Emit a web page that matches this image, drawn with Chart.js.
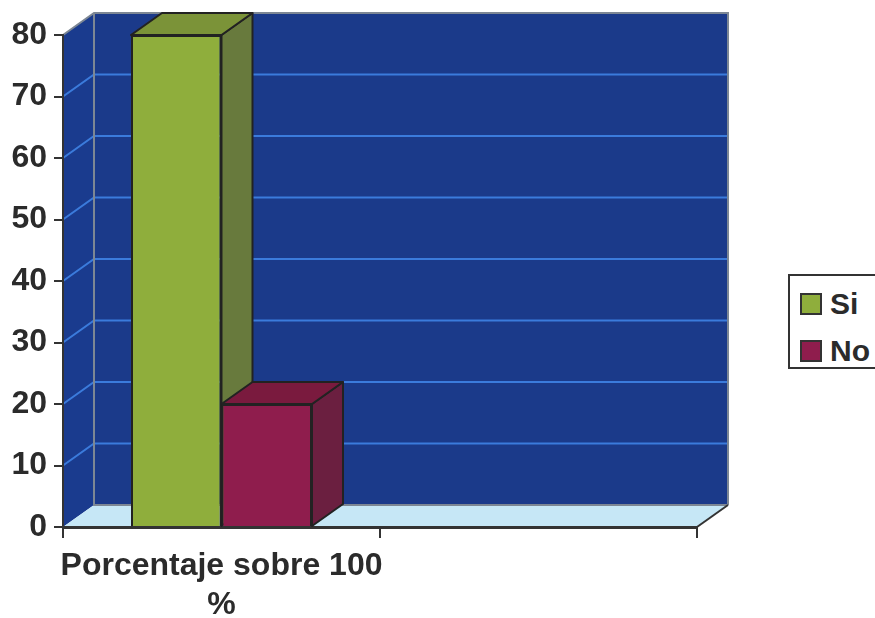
<!DOCTYPE html>
<html lang="es">
<head>
<meta charset="utf-8">
<title>Porcentaje sobre 100 %</title>
<script src="https://cdn.jsdelivr.net/npm/chart.js@4/dist/chart.umd.min.js"></script>
<style>
    html, body { margin: 0; padding: 0; background: #fff; overflow: hidden; }
    #wrap { position: relative; width: 875px; height: 618px; overflow: hidden; }
    #legend {
        position: absolute; left: 788px; top: 274px; width: 92px; height: 91px;
        border: 2px solid #333; background: #fff; box-sizing: content-box;
        font: bold 30px "Liberation Sans", Arial, sans-serif; color: #2b2b2b;
    }
    #legend div { position: absolute; left: 40px; line-height: 34px; white-space: nowrap; }
    #legend i {
        position: absolute; left: -30px; top: 6px; width: 18px; height: 18px;
        border: 2px solid #333; display: block;
    }
</style>
</head>
<body>
<div id="wrap">
    <canvas id="chart" width="875" height="618"></canvas>
    <div id="legend"></div>
</div>
<script>
(function() {
    'use strict';

    var categories = [['Porcentaje sobre 100', '%'], ''];
    var seriesNames = ['Si', 'No'];
    var siValues = [80, null];
    var noValues = [20, null];
    var yTicks = [0, 10, 20, 30, 40, 50, 60, 70, 80];

    var frontColors = ['#8fae3c', '#8f1d4d'];
    var sideColors = ['#687a3d', '#6b1f40'];
    var topColors = ['#7b9338', '#7a1a3e'];
    var edgeColor = '#222';
    var axisColor = '#333';
    var textColor = '#2b2b2b';
    var labelFont = { family: '"Liberation Sans", Arial, sans-serif', size: 32, weight: 'bold', lineHeight: 1.22 };

    // Depth of the fake 3D box, in pixels.
    var depthX = 31;
    var depthY = 22;

    function poly(ctx, pts, fill, stroke, width) {
        ctx.beginPath();
        ctx.moveTo(pts[0][0], pts[0][1]);
        for (var i = 1; i < pts.length; i++) {
            ctx.lineTo(pts[i][0], pts[i][1]);
        }
        ctx.closePath();
        if (fill) {
            ctx.fillStyle = fill;
            ctx.fill();
        }
        if (stroke) {
            ctx.strokeStyle = stroke;
            ctx.lineWidth = width;
            ctx.stroke();
        }
    }

    // Back wall, side wall, floor and the gridlines that wrap around them.
    var wallsPlugin = {
        id: 'walls',
        beforeDraw: function(chart) {
            var ctx = chart.ctx;
            var a = chart.chartArea;
            var y = chart.scales.y;
            ctx.save();
            poly(ctx, [[a.left + depthX, a.top - depthY], [a.right + depthX, a.top - depthY],
                [a.right + depthX, a.bottom - depthY], [a.left + depthX, a.bottom - depthY]], '#1b3a8a');
            poly(ctx, [[a.left, a.top], [a.left + depthX, a.top - depthY],
                [a.left + depthX, a.bottom - depthY], [a.left, a.bottom]], '#1a3b8e');
            poly(ctx, [[a.left, a.bottom], [a.left + depthX, a.bottom - depthY],
                [a.right + depthX, a.bottom - depthY], [a.right, a.bottom]], '#c6e7f6');

            ctx.strokeStyle = '#3b7bdc';
            ctx.lineWidth = 2;
            y.ticks.forEach(function(t) {
                if (t.value === 0 || t.value === 80) {
                    return;
                }
                var py = y.getPixelForValue(t.value);
                ctx.beginPath();
                ctx.moveTo(a.left, py);
                ctx.lineTo(a.left + depthX, py - depthY);
                ctx.lineTo(a.right + depthX, py - depthY);
                ctx.stroke();
            });

            // Grey outline of the walls.
            ctx.strokeStyle = '#7d8794';
            ctx.lineWidth = 2;
            ctx.beginPath();
            ctx.moveTo(a.left, a.top);
            ctx.lineTo(a.left + depthX, a.top - depthY);
            ctx.lineTo(a.right + depthX, a.top - depthY);
            ctx.lineTo(a.right + depthX, a.bottom - depthY);
            ctx.moveTo(a.left + depthX, a.top - depthY);
            ctx.lineTo(a.left + depthX, a.bottom - depthY);
            ctx.lineTo(a.right + depthX, a.bottom - depthY);
            ctx.stroke();

            ctx.strokeStyle = axisColor;
            ctx.beginPath();
            ctx.moveTo(a.right, a.bottom);
            ctx.lineTo(a.right + depthX, a.bottom - depthY);
            ctx.stroke();
            ctx.restore();
        },
        // Top and side faces go under all the front faces, first series first.
        beforeDatasetsDraw: function(chart) {
            var ctx = chart.ctx;
            ctx.save();
            ctx.lineJoin = 'round';
            chart.data.datasets.forEach(function(ds, i) {
                chart.getDatasetMeta(i).data.forEach(function(bar, j) {
                    if (ds.data[j] === null) {
                        return;
                    }
                    var l = bar.x - bar.width / 2;
                    var r = bar.x + bar.width / 2;
                    poly(ctx, [[r, bar.y], [r + depthX, bar.y - depthY],
                        [r + depthX, bar.base - depthY], [r, bar.base]], sideColors[i], edgeColor, 2);
                    poly(ctx, [[l, bar.y], [l + depthX, bar.y - depthY],
                        [r + depthX, bar.y - depthY], [r, bar.y]], topColors[i], edgeColor, 2);
                });
            });
            ctx.restore();
        }
    };

    function buildLegend() {
        var box = document.getElementById('legend');
        seriesNames.forEach(function(name, i) {
            var row = document.createElement('div');
            row.style.top = (11 + i * 47) + 'px';
            var swatch = document.createElement('i');
            swatch.style.background = frontColors[i];
            row.appendChild(swatch);
            row.appendChild(document.createTextNode(name));
            box.appendChild(row);
        });
    }

    document.addEventListener('DOMContentLoaded', function() {
        buildLegend();

        new Chart(document.getElementById('chart').getContext('2d'), {
            type: 'bar',
            data: {
                labels: categories,
                datasets: [
                    { label: seriesNames[0], data: siValues, backgroundColor: frontColors[0] },
                    { label: seriesNames[1], data: noValues, backgroundColor: frontColors[1] }
                ]
            },
            options: {
                responsive: false,
                animation: false,
                layout: { padding: { left: 0, right: 178, top: 35, bottom: 0 } },
                datasets: {
                    bar: {
                        barPercentage: 1,
                        categoryPercentage: 0.571,
                        borderColor: edgeColor,
                        borderWidth: 2
                    }
                },
                plugins: {
                    legend: { display: false },
                    tooltip: { enabled: false }
                },
                scales: {
                    x: {
                        grid: { drawOnChartArea: false, color: axisColor, lineWidth: 2, tickLength: 11 },
                        border: { color: axisColor, width: 3 },
                        ticks: {
                            color: textColor,
                            font: labelFont,
                            padding: 9,
                            maxRotation: 0,
                            autoSkip: false
                        },
                        afterFit: function(scale) { scale.height = 91; }
                    },
                    y: {
                        min: yTicks[0],
                        max: yTicks[yTicks.length - 1],
                        grid: { drawOnChartArea: false, color: axisColor, lineWidth: 2, tickLength: 9 },
                        border: { color: axisColor, width: 2 },
                        afterBuildTicks: function(scale) {
                            scale.ticks = yTicks.map(function(v) { return { value: v }; });
                        },
                        ticks: {
                            color: textColor,
                            font: labelFont,
                            padding: 7
                        },
                        afterFit: function(scale) { scale.width = 63; }
                    }
                }
            },
            plugins: [wallsPlugin]
        });
    });
})();
</script>
</body>
</html>
